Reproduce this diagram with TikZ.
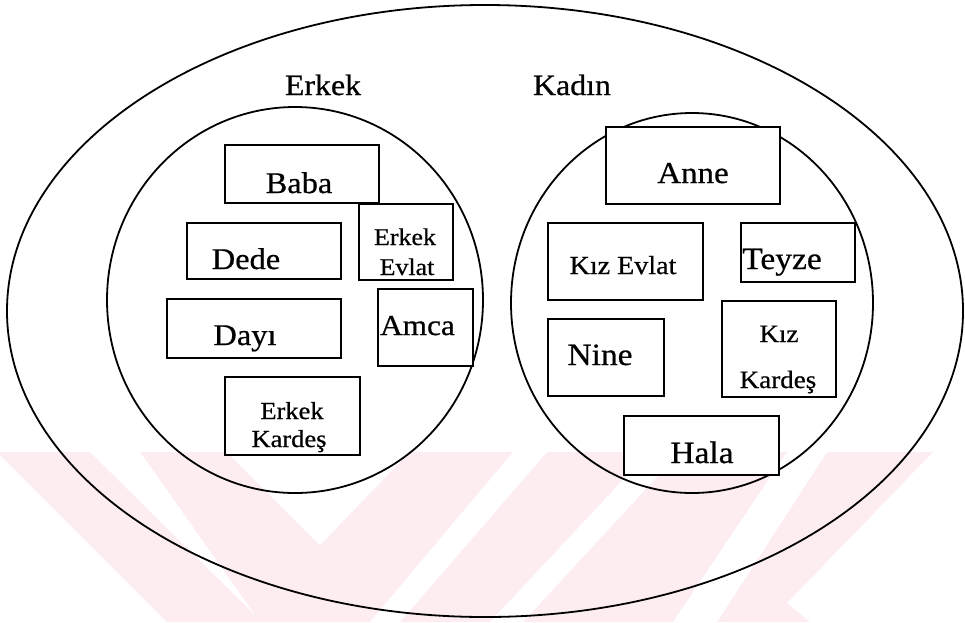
\documentclass[tikz,border=0pt]{standalone}
\usepackage{fontspec}
\setmainfont{Liberation Serif}[FakeStretch=1.08,FakeBold=0.6]
\usetikzlibrary{shapes.geometric}
\definecolor{wm}{RGB}{253,236,240}
\newcommand{\fs}[1]{\fontsize{#1}{#1}\selectfont}
\begin{document}
\begin{tikzpicture}[x=1pt,y=-1pt,
  box/.style={draw, line width=1.5pt, fill=white, inner sep=0pt, outer sep=0pt},
  ring/.style={draw, ellipse, line width=1.8pt, inner sep=0pt, outer sep=0pt},
  lbl/.style={inner sep=0pt, outer sep=0pt, anchor=base}]
\useasboundingbox (0,0) rectangle (965,622);
% watermark
\fill[wm] (0,452) -- (933,452) -- (787,603) -- (810,622) -- (167,622) -- (0,455) -- cycle;
\fill[white] (90,452) -- (140,452) -- (255,615) -- cycle;
\fill[white] (227,452) -- (410,452) -- (320,545) -- cycle;
\fill[white] (513,452) -- (547,452) -- (400,622) -- (370,622) -- cycle;
\fill[white] (649,452) -- (680,452) -- (523,622) -- (490,622) -- cycle;
\fill[white] (787,452) -- (827,452) -- (717,622) -- (673,622) -- cycle;
% sets
\node[ring, minimum width=956pt, minimum height=612pt] (outer) at (485,311) {};
\node[ring, minimum width=376pt, minimum height=386pt] (men) at (295,300) {};
\node[ring, minimum width=362pt, minimum height=380pt] (women) at (692,303) {};
\node[lbl, font=\fs{29.5}] (erkek) at (323,95) {Erkek};
\node[lbl, font=\fs{29.5}] (kadin) at (572,95) {Kadın};
% men boxes
\node[box, minimum width=154pt, minimum height=58pt] (baba) at (302,174) {};
\node[box, minimum width=154pt, minimum height=56pt] (dede) at (264,251) {};
\node[box, minimum width=94pt, minimum height=76pt] (evlat) at (406,242) {};
\node[box, minimum width=174pt, minimum height=59pt] (dayi) at (254,328.5) {};
\node[box, minimum width=95pt, minimum height=77pt] (amca) at (425.5,327.5) {};
\node[box, minimum width=135pt, minimum height=78pt] (kardes) at (292.5,416) {};
\node[lbl, font=\fs{30}] (tbaba) at (299,193) {Baba};
\node[lbl, font=\fs{30}] (tdede) at (246,269) {Dede};
\node[lbl, font=\fs{24}] (tevlat1) at (405,245) {Erkek};
\node[lbl, font=\fs{24}] (tevlat2) at (407,275) {Evlat};
\node[lbl, font=\fs{30}] (tdayi) at (245,345) {Dayı};
\node[lbl, font=\fs{29}] (tamca) at (417.5,335) {Amca};
\node[lbl, font=\fs{24.5}] (tkardes1) at (292,419) {Erkek};
\node[lbl, font=\fs{24.5}] (tkardes2) at (289,447) {Kardeş};
% women boxes
\node[box, minimum width=174pt, minimum height=77pt] (anne) at (693,165.5) {};
\node[box, minimum width=155pt, minimum height=77pt] (kizevlat) at (625.5,261.5) {};
\node[box, minimum width=114pt, minimum height=59pt] (teyze) at (798,252.5) {};
\node[box, minimum width=116pt, minimum height=77pt] (nine) at (606,357.5) {};
\node[box, minimum width=114pt, minimum height=96pt] (kizkardes) at (779,349) {};
\node[box, minimum width=155pt, minimum height=59pt] (hala) at (701.5,445.5) {};
\node[lbl, font=\fs{30.5}] (tanne) at (693,183) {Anne};
\node[lbl, font=\fs{26}] (tkizevlat) at (623,274) {Kız Evlat};
\node[lbl, font=\fs{31}] (tteyze) at (782,269) {Teyze};
\node[lbl, font=\fs{31}] (tnine) at (600,365) {Nine};
\node[lbl, font=\fs{25}] (tkiz1) at (779,342) {Kız};
\node[lbl, font=\fs{25}] (tkiz2) at (778,388) {Kardeş};
\node[lbl, font=\fs{31}] (thala) at (702,463) {Hala};
\end{tikzpicture}
\end{document}
